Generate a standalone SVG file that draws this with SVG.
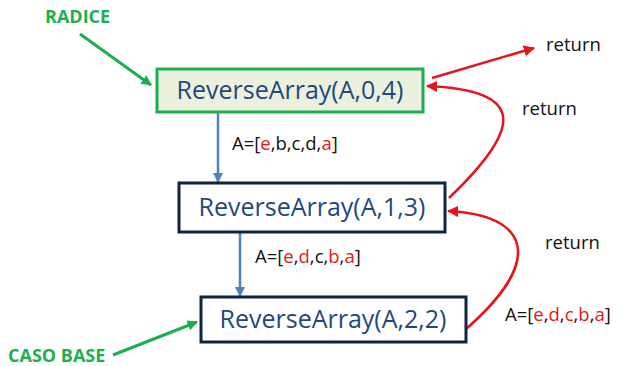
<svg xmlns="http://www.w3.org/2000/svg" width="618" height="366" viewBox="0 0 618 366">
<defs>
<style>
.box text{font-family:"Open Sans","Liberation Sans",sans-serif;font-size:25px;fill:#1F497D;text-anchor:middle}
.lbl{font-family:"Open Sans","Liberation Sans",sans-serif;font-size:18.5px;fill:#111}
.r{fill:#E8141B}
.green{font-family:"Open Sans","Liberation Sans",sans-serif;font-size:18px;font-weight:bold;fill:#1DAF4F}
.blue{stroke:#4F81BD;stroke-width:2.5;fill:none;marker-end:url(#ab)}
.red{stroke:#E8141B;stroke-width:2.5;fill:none;marker-end:url(#ar)}
.grn{stroke:#1DAF4F;stroke-width:3;fill:none;marker-end:url(#ag)}
</style>
<marker id="ab" viewBox="0 0 10 10" refX="9" refY="5" markerWidth="4" markerHeight="4" orient="auto"><path d="M0,0L10,5L0,10z" fill="#4F81BD"/></marker>
<marker id="ar" viewBox="0 0 10 10" refX="9" refY="5" markerWidth="4.5" markerHeight="4.5" orient="auto"><path d="M0,0L10,5L0,10z" fill="#E8141B"/></marker>
<marker id="ag" viewBox="0 0 10 10" refX="9" refY="5" markerWidth="3.5" markerHeight="3.5" orient="auto"><path d="M0,0L10,5L0,10z" fill="#1DAF4F"/></marker>
</defs>
<rect width="618" height="366" fill="#fff"/>
<g id="connectors">
<path class="blue" d="M218,113 V182"/>
<path class="blue" d="M240,233 V296"/>
<path class="grn" d="M80,34 L151,85"/>
<path class="grn" d="M113,355 L197,322"/>
<path class="red" d="M432,78 L534,48"/>
<path class="red" d="M449,198 C520,130 530,90 427,86"/>
<path class="red" d="M466,329 C545,260 530,215 448,211"/>
</g>
<g id="node1" class="box"><rect x="157" y="69" width="266" height="43" fill="#EBF1DE" stroke="#1DAF4F" stroke-width="3"/><text x="290" y="99">ReverseArray(A,0,4)</text></g>
<g id="node2" class="box"><rect x="179" y="183" width="266" height="49" fill="#fff" stroke="#0F243E" stroke-width="3"/><text x="312" y="216">ReverseArray(A,1,3)</text></g>
<g id="node3" class="box"><rect x="201" y="297" width="265" height="45" fill="#fff" stroke="#0F243E" stroke-width="3"/><text x="333" y="328">ReverseArray(A,2,2)</text></g>
<text class="green" x="45" y="23">RADICE</text>
<text class="green" x="8" y="362">CASO BASE</text>
<text class="lbl" x="232" y="150">A=[<tspan class="r">e</tspan>,b,c,d,<tspan class="r">a</tspan>]</text>
<text class="lbl" x="255" y="263">A=[<tspan class="r">e</tspan>,<tspan class="r">d</tspan>,c,<tspan class="r">b</tspan>,<tspan class="r">a</tspan>]</text>
<text class="lbl" x="505" y="321">A=[<tspan class="r">e</tspan>,<tspan class="r">d</tspan>,<tspan class="r">c</tspan>,<tspan class="r">b</tspan>,<tspan class="r">a</tspan>]</text>
<text class="lbl" x="546" y="51">return</text>
<text class="lbl" x="522" y="115">return</text>
<text class="lbl" x="545" y="249">return</text>
</svg>
